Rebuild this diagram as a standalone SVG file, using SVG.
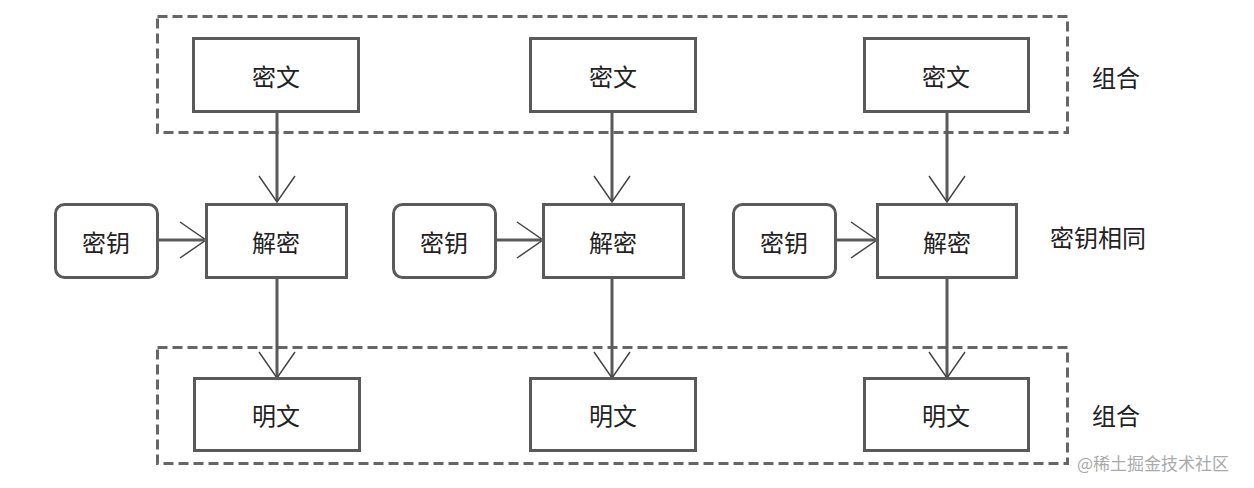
<svg xmlns="http://www.w3.org/2000/svg" width="1254" height="488" viewBox="0 0 1254 488">
<defs>
<style>
.box{fill:#fff;stroke:#5a5a5a;stroke-width:3}
.grp{fill:none;stroke:#666;stroke-width:3;stroke-dasharray:10 5}
.t{font-family:"Noto Sans CJK SC","Noto Sans CJK TC",sans-serif;font-size:24px;fill:#222;text-anchor:middle;dominant-baseline:central}
.lbl{font-family:"Noto Sans CJK SC",sans-serif;font-size:24px;fill:#222;text-anchor:middle;dominant-baseline:central}
.wm{font-family:"Noto Sans CJK SC",sans-serif;font-size:17px;fill:#aaa;dominant-baseline:central}
.c{fill:none;stroke:#5a5a5a;stroke-width:3}
.ah{fill:none;stroke:#444;stroke-width:1.5}
</style>
</defs>
<rect width="1254" height="488" fill="#fff"/>
<g id="group-top"><rect class="grp" x="157.5" y="16.5" width="910" height="116"/></g>
<g id="group-bottom"><rect class="grp" x="157.5" y="347.5" width="910" height="116"/></g>
<g id="connectors">
<path class="c" d="M277 112V201M612 112V201M947 112V201"/>
<path class="c" d="M277 278V377M612 278V377M947 278V377"/>
<path class="c" d="M157 240H204M496 240H541M836 240H875"/>
<path class="ah" d="M259 176L277 202L295 176M594 176L612 202L630 176M929 176L947 202L965 176"/>
<path class="ah" d="M259 352L277 378L295 352M594 352L612 378L630 352M929 352L947 378L965 352"/>
<path class="ah" d="M180 222L206 240L180 258M517 222L543 240L517 258M851 222L877 240L851 258"/>
</g>
<g id="c1"><rect class="box" x="193.5" y="38.5" width="165" height="73"/><text class="t" x="276" y="75">密文</text></g>
<g id="c2"><rect class="box" x="530.5" y="38.5" width="165" height="73"/><text class="t" x="613" y="75">密文</text></g>
<g id="c3"><rect class="box" x="864.5" y="38.5" width="164" height="73"/><text class="t" x="946" y="75">密文</text></g>
<g id="k1"><rect class="box" x="55.5" y="204.5" width="102" height="73" rx="9"/><text class="t" x="106" y="241">密钥</text></g>
<g id="k2"><rect class="box" x="393.5" y="204.5" width="102" height="73" rx="9"/><text class="t" x="444" y="241">密钥</text></g>
<g id="k3"><rect class="box" x="733.5" y="204.5" width="102" height="73" rx="9"/><text class="t" x="784" y="241">密钥</text></g>
<g id="d1"><rect class="box" x="206.5" y="204.5" width="140" height="73"/><text class="t" x="276" y="241">解密</text></g>
<g id="d2"><rect class="box" x="543.5" y="204.5" width="140" height="73"/><text class="t" x="613" y="241">解密</text></g>
<g id="d3"><rect class="box" x="877.5" y="204.5" width="139" height="73"/><text class="t" x="947" y="241">解密</text></g>
<g id="p1"><rect class="box" x="194.5" y="378.5" width="165" height="72"/><text class="t" x="276" y="414">明文</text></g>
<g id="p2"><rect class="box" x="530.5" y="378.5" width="165" height="72"/><text class="t" x="613" y="414">明文</text></g>
<g id="p3"><rect class="box" x="864.5" y="378.5" width="164" height="72"/><text class="t" x="946" y="414">明文</text></g>
<text class="lbl" x="1116" y="76">组合</text>
<text class="lbl" x="1098" y="236">密钥相同</text>
<text class="lbl" x="1116" y="414">组合</text>
<text class="wm" x="1077" y="462">@稀土掘金技术社区</text>
</svg>
